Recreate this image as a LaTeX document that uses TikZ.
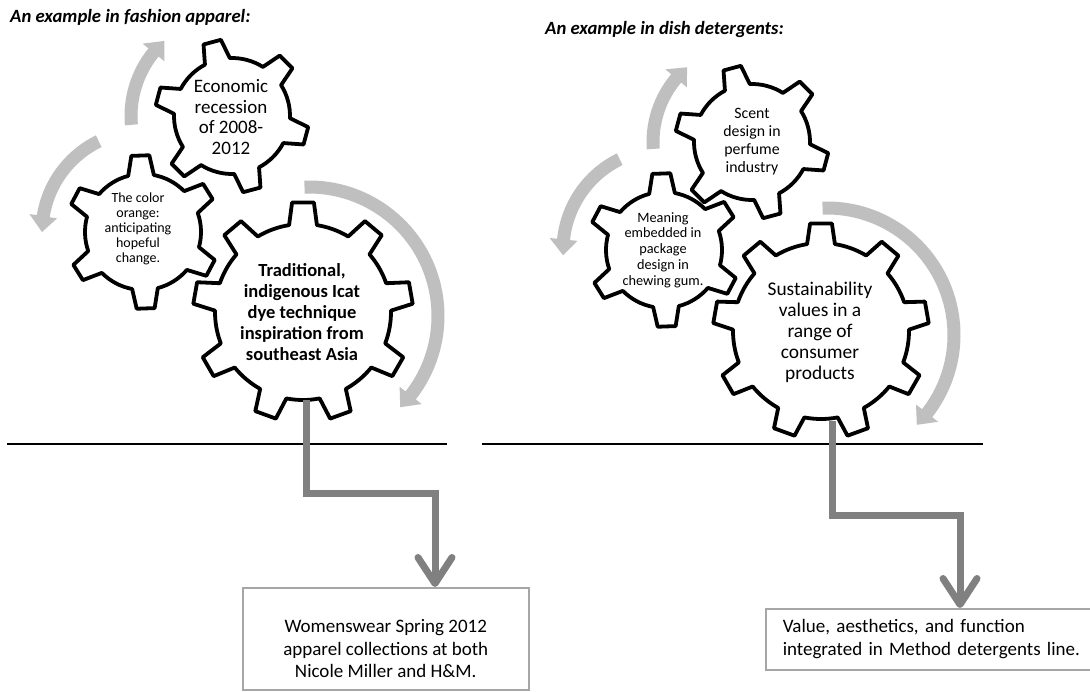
\documentclass[tikz,border=0pt]{standalone}
\usepackage{fontspec}
\setmainfont{Carlito}
\usetikzlibrary{calc,arrows.meta}
\definecolor{conngray}{RGB}{128,128,128}
\definecolor{arcgray}{RGB}{191,191,191}
\definecolor{boxgray}{RGB}{166,166,166}

% gear: #1 centre, #2 inner r, #3 outer r, #4 teeth, #5 offset, #6 base half-angle, #7 tip half-angle
\newcommand\drawgear[7]{%
  \filldraw[gear] ($(#1)+({#5-#6}:#2)$)
  \foreach \k [evaluate=\k as \gtl using #5+(\k-1)*360/#4-#7,
               evaluate=\k as \gtr using #5+(\k-1)*360/#4+#7,
               evaluate=\k as \gbr using #5+(\k-1)*360/#4+#6,
               evaluate=\k as \gnx using #5+\k*360/#4-#6] in {1,...,#4} {
    -- ($(#1)+(\gtl:#3)$) -- ($(#1)+(\gtr:#3)$) -- ($(#1)+(\gbr:#2)$)
    arc[start angle=\gbr, end angle=\gnx, radius=#2]
  } -- cycle;
}
% circular arrow: #1 centre, #2 r, #3 start, #4 head base, #5 tip, #6 half body, #7 half head
\newcommand\circarrow[7]{%
  \pgfmathsetmacro\caRo{#2+#6}\pgfmathsetmacro\caRi{#2-#6}%
  \pgfmathsetmacro\caHo{#2+#7}\pgfmathsetmacro\caHi{#2-#7}%
  \fill[carrow] ($(#1)+(#3:\caRo)$) arc[start angle=#3, end angle=#4, radius=\caRo]
    -- ($(#1)+(#4:\caHo)$) -- ($(#1)+(#5:#2)$) -- ($(#1)+(#4:\caHi)$)
    -- ($(#1)+(#4:\caRi)$) arc[start angle=#4, end angle=#3, radius=\caRi] -- cycle;
}

\begin{document}
\begin{tikzpicture}[x=1pt,y=-1pt,
  gear/.style={draw=black, fill=white, line width=3.8pt, line join=round},
  carrow/.style={fill=arcgray},
  conn/.style={draw=conngray, line width=7pt, line join=miter,
    -{Straight Barb[length=26pt,width=34pt,line cap=round,line join=round]}},
  rule/.style={draw=black, line width=2.5pt},
  frame/.style={draw=boxgray, line width=1.5pt, fill=white},
  title/.style={font=\fontsize{18.7}{22}\selectfont\bfseries\itshape, inner sep=0pt, anchor=base west},
  gtext/.style={align=center, inner sep=0pt},
  boxtext/.style={font=\fontsize{19}{22.5}\selectfont}
]
\clip (0,0) rectangle (1090,691);
\fill[white] (0,0) rectangle (1090,691);

% titles
\node[title] (t1) at (10,22) {An example in fashion apparel:};
\node[title] (t2) at (545,34) {An example in dish detergents:};

% base lines
\draw[rule] (7,444) -- (447,444);
\draw[rule] (482,444) -- (983,444);

% centres
\coordinate (cA) at (232,116);
\coordinate (cB) at (143,232);
\coordinate (cC) at (303,312);
\coordinate (cD) at (752,142);
\coordinate (cE) at (664,250);
\coordinate (cF) at (821,331);

% curved arrows
\circarrow{309,316}{129}{-92}{38}{45}{6.5}{14}
\circarrow{cB}{101}{-116}{-171}{-180}{6.5}{14}
\circarrow{cA}{101}{175}{219}{228}{6.5}{14}
\circarrow{827,335}{127}{-92}{38}{45}{6.5}{14}
\circarrow{cE}{101}{-116}{-174}{-183}{6.5}{14}
\circarrow{cD}{99}{176}{220}{229}{6.5}{14}

% gears
\drawgear{cC}{88}{110}{9}{-90}{9.1}{5.7}
\drawgear{cA}{58}{77}{6}{-105}{12.8}{6.7}
\drawgear{cB}{58}{77}{6}{-92}{12.8}{6.7}
\drawgear{cF}{88}{108}{9}{-90}{9.1}{5.8}
\drawgear{cD}{58}{77}{6}{-105}{12.8}{6.7}
\drawgear{cE}{58}{77}{6}{-92}{12.8}{6.7}

% gear texts
\node[gtext, font=\fontsize{19}{20.6}\selectfont] (gA) at (231,117) {Economic\\recession\\of 2008-\\2012};
\node[gtext, font=\fontsize{14}{15}\selectfont] (gB) at (138,229) {The color\\orange:\\anticipating\\hopeful\\change.};
\node[gtext, font=\fontsize{18.5}{21}\selectfont\bfseries] (gC) at (302,312) {Traditional,\\indigenous Icat\\dye technique\\inspiration from\\southeast Asia};
\node[gtext, font=\fontsize{15.8}{18}\selectfont] (gD) at (752,142) {Scent\\design in\\perfume\\industry};
\node[gtext, font=\fontsize{14.3}{15.7}\selectfont] (gE) at (663,250) {Meaning\\embedded in\\package\\design in\\chewing gum.};
\node[gtext, font=\fontsize{19.4}{21}\selectfont] (gF) at (820,332) {Sustainability\\values in a\\range of\\consumer\\products};

% boxes
\node[frame, minimum width=286, minimum height=102, anchor=north west] (box1) at (242,587) {};
\node[boxtext, align=center, inner sep=0pt] (box1t) at ($(box1.center)+(0,10)$) {Womenswear Spring 2012\\apparel collections at both\\Nicole Miller and H\&M.};
\node[frame, boxtext, anchor=north west, minimum height=61, inner xsep=17pt, text width=310pt, align=left] (box2) at (765,608) {Value, aesthetics, and function\\integrated in Method detergents line.};

% connectors
\coordinate (sC) at (306,400);
\coordinate (k1) at (435,493);
\coordinate (sF) at (832,421);
\coordinate (k2) at (960,515);
\draw[conn] (sC) |- (k1) -- (k1 |- box1.north);
\draw[conn] (sF) |- (k2) -- (k2 |- box2.north);
\end{tikzpicture}
\end{document}
